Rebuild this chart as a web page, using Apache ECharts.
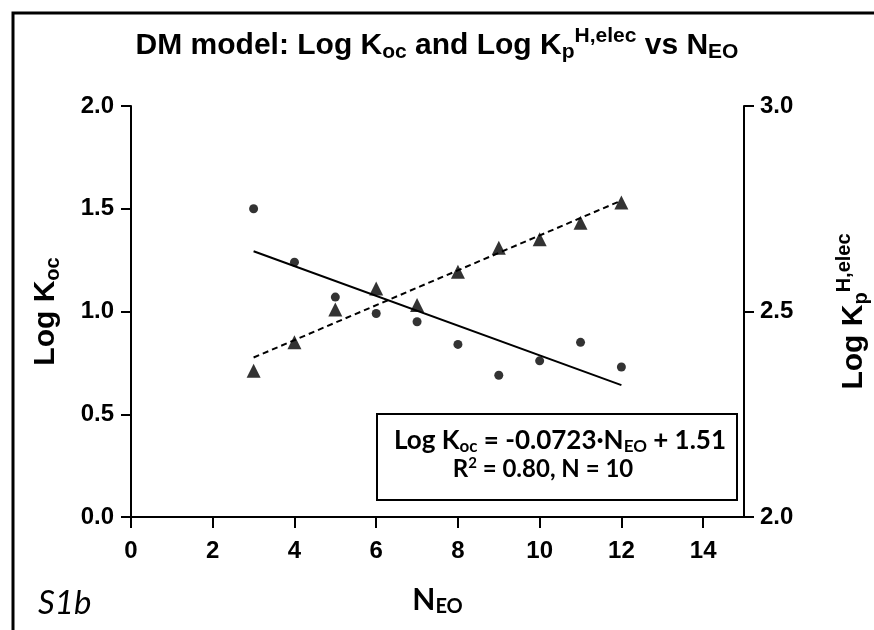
<!DOCTYPE html>
<html>
<head>
<meta charset="utf-8">
<script src="https://cdn.jsdelivr.net/npm/echarts@6/dist/echarts.min.js"></script>
<style>
html, body { margin: 0; padding: 0; background: #fff; }
#chart { width: 874px; height: 630px; }
</style>
</head>
<body>
<div id="chart"></div>
<script>
// N_EO values (x)
const nEO = [3, 4, 5, 6, 7, 8, 9, 10, 11, 12];
// Log Koc (left axis, circles)
const logKoc = [1.50, 1.24, 1.07, 0.99, 0.95, 0.84, 0.69, 0.76, 0.85, 0.73];
// Log Kp H,elec (right axis, triangles)
const logKp = [2.356, 2.425, 2.505, 2.556, 2.516, 2.597, 2.655, 2.676, 2.716, 2.765];
// fit line end points
const kocFit = [[3, 1.293], [12, 0.642]];
const kpFit = [[3, 2.388], [12, 2.770]];
// ticks
const xTicks = [0, 2, 4, 6, 8, 10, 12, 14];
const kocTicks = [0, 0.5, 1.0, 1.5, 2.0];
const kpTicks = [2.0, 2.5, 3.0];

const chart = echarts.init(document.getElementById('chart'));

const arial = 'Liberation Sans, Arial, sans-serif';
const calib = 'Lato, Open Sans, sans-serif';

const axisBase = {
    axisLine: { show: true, onZero: false, lineStyle: { color: '#000', width: 2 } },
    axisTick: { show: true, length: 10, lineStyle: { color: '#000', width: 2 } },
    splitLine: { show: false }
};

const option = {
    animation: false,
    backgroundColor: '#fff',
    title: {
        text: '{a|DM model: Log K}{sub|oc}{a| and Log K}{sub|p}{sup|H,elec}{a| vs N}{sub|EO}',
        left: 'center',
        top: 21,
        textStyle: {
            rich: {
                a: { fontFamily: arial, fontWeight: 'bold', fontSize: 30, color: '#000' },
                sub: { fontFamily: arial, fontWeight: 'bold', fontSize: 21, color: '#000', padding: [14, 0, 0, 0] },
                sup: { fontFamily: arial, fontWeight: 'bold', fontSize: 21, color: '#000', padding: [0, 0, 18, 0] }
            }
        }
    },
    grid: { left: 131, right: 130, top: 106, bottom: 113, outerBoundsMode: 'none', containLabel: false },
    xAxis: Object.assign({}, axisBase, {
        type: 'value',
        min: 0,
        max: 15,
        axisTick: { show: true, length: 11, customValues: xTicks, lineStyle: { color: '#000', width: 2 } },
        axisLabel: {
            customValues: xTicks,
            margin: 22,
            fontFamily: arial, fontWeight: 'bold', fontSize: 24, color: '#000'
        },
        name: 'N{sub|EO}',
        nameLocation: 'middle',
        nameGap: 66,
        nameTextStyle: {
            rich: {
                sub: { fontFamily: calib, fontWeight: 'bold', fontSize: 20, color: '#000', padding: [14, 0, 0, 0] }
            },
            fontFamily: calib, fontWeight: 'bold', fontSize: 30, color: '#000'
        }
    }),
    yAxis: [
        Object.assign({}, axisBase, {
            type: 'value',
            position: 'left',
            min: kocTicks[0],
            max: kocTicks[kocTicks.length - 1],
            interval: 0.5,
            axisLabel: {
                margin: 17,
                formatter: v => v.toFixed(1),
                fontFamily: arial, fontWeight: 'bold', fontSize: 24, color: '#000'
            },
            name: 'Log K{sub|oc}',
            nameLocation: 'middle',
            nameGap: 68,
            nameTextStyle: {
                fontFamily: arial, fontWeight: 'bold', fontSize: 30, color: '#000',
                rich: {
                    sub: { fontFamily: arial, fontWeight: 'bold', fontSize: 20, color: '#000', padding: [14, 0, 0, 0] }
                }
            }
        }),
        Object.assign({}, axisBase, {
            type: 'value',
            position: 'right',
            min: kpTicks[0],
            max: kpTicks[kpTicks.length - 1],
            interval: 0.5,
            axisLabel: {
                margin: 16,
                formatter: v => v.toFixed(1),
                fontFamily: arial, fontWeight: 'bold', fontSize: 24, color: '#000'
            },
            name: 'Log K{sub|p}{sup|H,elec}',
            nameLocation: 'middle',
            nameGap: 90,
            nameTextStyle: {
                fontFamily: arial, fontWeight: 'bold', fontSize: 30, color: '#000',
                rich: {
                    sub: { fontFamily: arial, fontWeight: 'bold', fontSize: 20, color: '#000', padding: [14, 0, 0, 0] },
                    sup: { fontFamily: arial, fontWeight: 'bold', fontSize: 20, color: '#000', padding: [0, 0, 20, 0] }
                }
            }
        })
    ],
    graphic: [
        // outer frame
        {
            type: 'rect',
            shape: { x: 13, y: 13, width: 900, height: 700 },
            style: { fill: 'none', stroke: '#000', lineWidth: 3 },
            silent: true
        },
        // equation box
        {
            type: 'rect',
            shape: { x: 377, y: 414, width: 360, height: 86 },
            style: { fill: '#fff', stroke: '#000', lineWidth: 2 },
            z: 10
        },
        {
            type: 'text',
            x: 560, y: 441,
            z: 11,
            style: {
                text: '{a|Log K}{s|oc}{a| = -0.0723·N}{s|EO}{a| + 1.51}',
                align: 'center', verticalAlign: 'middle',
                rich: {
                    a: { fontFamily: calib, fontWeight: 'bold', fontSize: 26, fill: '#000' },
                    s: { fontFamily: calib, fontWeight: 'bold', fontSize: 17, fill: '#000', padding: [12, 0, 0, 0] }
                }
            }
        },
        {
            type: 'text',
            x: 543, y: 469,
            z: 11,
            style: {
                text: '{a|R}{p|2}{a| = 0.80, N = 10}',
                align: 'center', verticalAlign: 'middle',
                rich: {
                    a: { fontFamily: calib, fontWeight: 'bold', fontSize: 24, fill: '#000' },
                    p: { fontFamily: calib, fontWeight: 'bold', fontSize: 15, fill: '#000', padding: [0, 0, 12, 0] }
                }
            }
        },
        // panel tag
        {
            type: 'text',
            x: 38, y: 603,
            style: {
                text: 'S1b',
                verticalAlign: 'middle',
                fontFamily: calib, fontStyle: 'italic', fontSize: 33, fill: '#000'
            }
        }
    ],
    series: [
        {
            type: 'line',
            data: kocFit,
            yAxisIndex: 0,
            showSymbol: false,
            lineStyle: { color: '#000', width: 2 },
            z: 3
        },
        {
            type: 'line',
            data: kpFit,
            yAxisIndex: 1,
            showSymbol: false,
            lineStyle: { color: '#000', width: 2, type: [6, 4] },
            z: 3
        },
        {
            type: 'scatter',
            data: nEO.map((x, i) => [x, logKoc[i]]),
            yAxisIndex: 0,
            symbol: 'circle',
            symbolSize: 9,
            itemStyle: { color: '#000' },
            z: 4
        },
        {
            type: 'scatter',
            data: nEO.map((x, i) => [x, logKp[i]]),
            yAxisIndex: 1,
            symbol: 'triangle',
            symbolSize: 14,
            itemStyle: { color: '#000' },
            z: 4
        }
    ]
};

chart.setOption(option);
</script>
</body>
</html>
